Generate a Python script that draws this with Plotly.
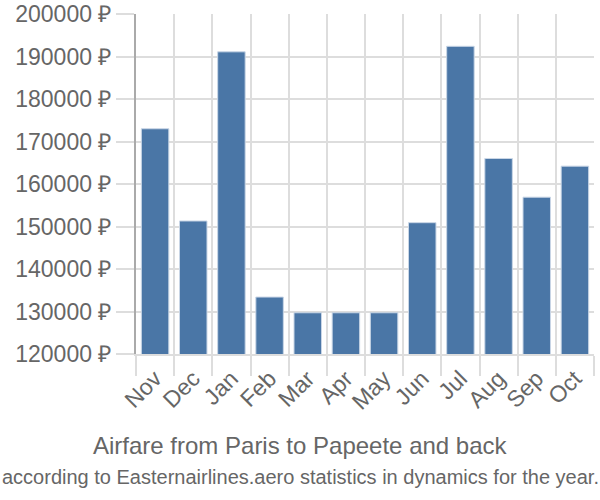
import plotly.graph_objects as go

months = ["Nov", "Dec", "Jan", "Feb", "Mar", "Apr", "May", "Jun", "Jul", "Aug", "Sep", "Oct"]
prices = [173000, 151300, 191100, 133400, 129700, 129700, 129700, 150900, 192400, 166000, 156900, 164200]
y_ticks = [120000, 130000, 140000, 150000, 160000, 170000, 180000, 190000, 200000]
y_labels = [f"{v} ₽" for v in y_ticks]
title = "Airfare from Paris to Papeete and back"
subtitle = "according to Easternairlines.aero statistics in dynamics for the year."

fig = go.Figure(go.Bar(
    x=months, y=prices,
    marker=dict(color="#4a76a6", line=dict(color="#c9d6e6", width=1)),
    width=0.72,
))

font = "Liberation Sans, Arial, sans-serif"
fig.update_layout(
    width=600, height=500,
    margin=dict(l=136, r=6, t=14, b=146),
    plot_bgcolor="white", paper_bgcolor="white",
    showlegend=False,
    font=dict(family=font, color="#666666", size=20),
    xaxis=dict(
        tickson="boundaries", ticks="outside", ticklen=20, tickcolor="#dddddd", tickwidth=2,
        showgrid=True, gridcolor="#dddddd", gridwidth=2,
        tickangle=-45, tickfont=dict(size=23, color="#666666"),
        showline=True, linecolor="#dddddd", linewidth=2,
        mirror=False, automargin=False,
    ),
    yaxis=dict(
        range=[120000, 200000], tickvals=y_ticks, ticktext=y_labels,
        ticks="outside", ticklen=18, tickcolor="#dddddd", tickwidth=2,
        showgrid=True, gridcolor="#dddddd", gridwidth=2,
        showline=True, linecolor="#aaaaaa", linewidth=2,
        tickfont=dict(size=23, color="#666666"), zeroline=False, automargin=False,
    ),
    annotations=[
        dict(text=title, x=0.5, xref="paper", y=445, yref="paper", showarrow=False,
             font=dict(size=24, color="#666666", family=font)),
        dict(text=subtitle, x=0.5, xref="paper", y=477, yref="paper", showarrow=False,
             font=dict(size=20, color="#666666", family=font)),
    ],
)
# convert pixel y positions to paper coords
ph = 500 - 14 - 146
for a in fig.layout.annotations:
    py = a.y
    a.y = (500 - 146 - py) / ph
    a.xref = "paper"
    a.x = (300 - 136) / (600 - 136 - 6)
    a.yanchor = "middle"
fig.write_html("out.html")
